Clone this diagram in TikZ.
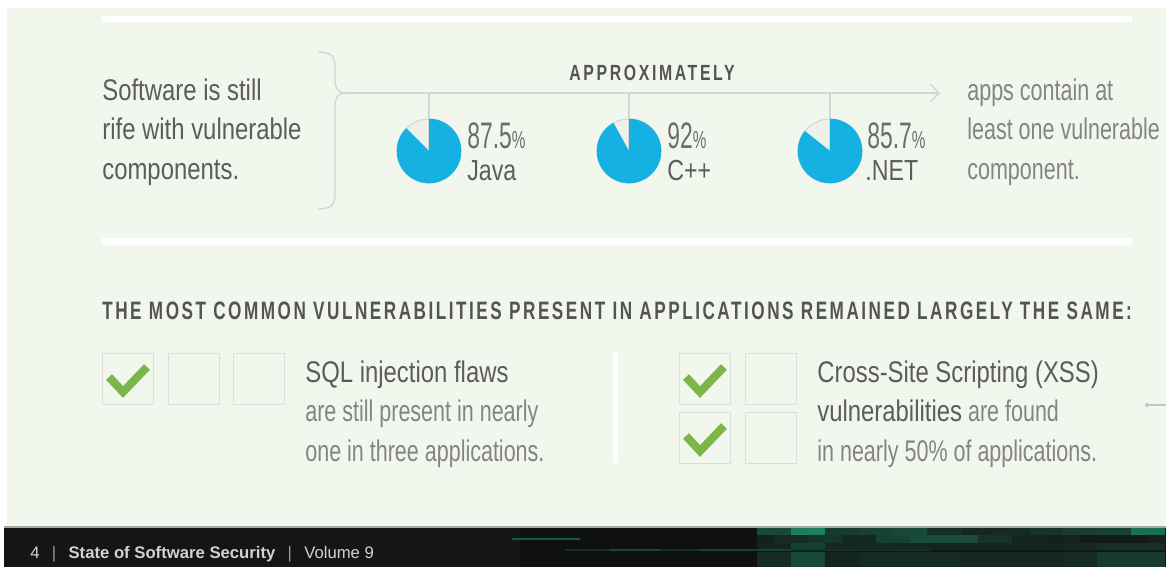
\documentclass[tikz,border=0pt]{standalone}
\usepackage{fontspec}
\setmainfont{Liberation Sans}
\newfontfamily\medfont{Liberation Sans}[FakeStretch=0.8]
\newfontfamily\lightfont{Liberation Sans}[FakeStretch=0.72]
\newfontfamily\numfont{Liberation Sans}[FakeStretch=0.62]
\newfontfamily\capsfont{Liberation Sans}[FakeStretch=0.72,LetterSpace=12]
\newfontfamily\headfont{Liberation Sans}[FakeStretch=0.68,LetterSpace=10]
\usetikzlibrary{arrows.meta}

\definecolor{panel}{RGB}{242,247,238}
\definecolor{rulegray}{RGB}{212,215,209}
\definecolor{boxline}{RGB}{220,223,216}
\definecolor{txtdark}{RGB}{92,92,92}
\definecolor{txthead}{RGB}{84,84,84}
\definecolor{txtlight}{RGB}{132,132,132}
\definecolor{pieblue}{RGB}{20,177,226}
\definecolor{pieblank}{RGB}{238,240,234}
\definecolor{checkgreen}{RGB}{122,182,72}
\definecolor{footbg}{RGB}{19,21,22}
\definecolor{footdark}{RGB}{14,16,17}
\definecolor{mosaic}{RGB}{34,168,118}

\tikzset{
  ruleline/.style={draw=rulegray, line width=0.8pt},
  medtext/.style={anchor=west, align=left, text=txtdark, inner sep=0pt,
    font=\medfont\fontsize{17}{22.4}\selectfont},
  lighttext/.style={anchor=west, align=left, text=txtlight, inner sep=0pt,
    font=\lightfont\fontsize{17}{22.4}\selectfont},
  capstext/.style={text=txthead, inner sep=0pt,
    font=\capsfont\bfseries\fontsize{12.5}{15}\selectfont},
  headtext/.style={anchor=west, text=txthead, inner sep=0pt,
    font=\headfont\bfseries\fontsize{14.35}{16}\selectfont},
  pctlabel/.style={anchor=west, text=txtdark!90, inner sep=0pt,
    font=\numfont\fontsize{21}{21}\selectfont},
  langlabel/.style={anchor=west, text=txtdark, inner sep=0pt,
    font=\medfont\fontsize{16.5}{16.5}\selectfont},
  checkbox/.style={draw=boxline, line width=0.8pt, minimum size=1.02cm, inner sep=0pt},
  tickline/.style={draw=checkgreen, line width=4.6pt},
}

\begin{document}
\begin{tikzpicture}[x=0.02cm, y=0.02cm]
        \useasboundingbox (0,0) rectangle (1166,-567);
        \fill[white] (0,0) rectangle (1166,-567);

        % panel and white bars
        \fill[panel] (7,-8) rectangle (1166,-527);
        \fill[white] (102,-16) rectangle (1132,-22);
        \fill[white] (102,-238) rectangle (1132,-245);
        \fill[white] (613,-352) rectangle (618,-463);

        % intro and outro text
        \node[medtext] (intro) at (102,-132) {Software is still\\rife with vulnerable\\components.};
        \node[lighttext] (outro) at (967,-132) {apps contain at\\least one vulnerable\\component.};

        % brace and arrow
        \coordinate (tip) at (345,-93);
        \coordinate (arrowend) at (940,-93);
        \draw[ruleline] (318,-52) .. controls (333,-52) and (335,-58) .. (335,-68) -- (335,-80)
            .. controls (335,-88) and (338,-93) .. (tip)
            .. controls (338,-93) and (335,-98) .. (335,-106) -- (335,-193)
            .. controls (335,-203) and (333,-209) .. (318,-209);
        \draw[ruleline, -{Straight Barb[length=5pt,width=10pt]}] (tip) -- (arrowend);
        \node[capstext] (approx) at (652,-73) {APPROXIMATELY};

        % pies
        \foreach \name/\cx/\p in {java/429/0.875, cpp/629/0.92, net/830/0.857} {
            \pgfmathsetmacro\ang{90+360*(1-\p)}
            \coordinate (\name) at (\cx,-151);
            \filldraw[fill=pieblank, draw=rulegray, line width=0.6pt] (\name) circle (32);
            \draw[ruleline] (\name) -- (\name |- tip);
            \fill[pieblue] (\name) -- ++(\ang:32.3) arc[start angle=\ang, end angle=450, radius=32.3] -- cycle;
        }

        % pie labels
        \node[pctlabel] (javapct) at (467,-136) {87.5{\fontsize{14}{14}\selectfont\%}};
        \node[langlabel] (javalang) at (467,-171) {Java};
        \node[pctlabel] (cpppct) at (667,-136) {92{\fontsize{14}{14}\selectfont\%}};
        \node[langlabel] (cpplang) at (667,-171) {C++};
        \node[pctlabel] (netpct) at (867,-136) {85.7{\fontsize{14}{14}\selectfont\%}};
        \node[langlabel] (netlang) at (865,-171) {.NET};

        % heading
        \node[headtext] (heading) at (102,-311) {THE MOST COMMON VULNERABILITIES PRESENT IN APPLICATIONS REMAINED LARGELY THE SAME:};

        % check boxes
        \node[checkbox] (b1) at (128,-379) {};
        \node[checkbox] (b2) at (194,-379) {};
        \node[checkbox] (b3) at (259,-379) {};
        \node[checkbox] (r1) at (705,-379) {};
        \node[checkbox] (r2) at (771,-379) {};
        \node[checkbox] (r3) at (705,-438) {};
        \node[checkbox] (r4) at (771,-438) {};
        \foreach \b in {b1,r1,r3} {
            \draw[tickline] ([xshift=-0.38cm,yshift=0.04cm]\b.center) -- ([xshift=-0.1cm,yshift=-0.26cm]\b.center)
                -- ([xshift=0.38cm,yshift=0.24cm]\b.center);
        }

        % vulnerability text
        \node[lighttext] (sql) at (305,-414) {{\color{txtdark}\medfont SQL injection flaws}\\are still present in nearly\\one in three applications.};
        \node[lighttext] (xss) at (817,-414) {{\color{txtdark}\medfont Cross-Site Scripting (XSS)}\\{\color{txtdark}\medfont vulnerabilities} are found\\in nearly 50\% of applications.};

        % stub at right edge
        \coordinate (stub) at (1147,-405);
        \coordinate (stubend) at (1166,-405);
        \fill[gray!45] (stub) circle (2);
        \draw[gray!45, line width=0.6pt] (stub) -- (stubend);

        % footer
        \fill[footbg] (4,-527) rectangle (1166,-567);
        \fill[footdark] (520,-527) rectangle (757,-567);
        \draw[gray!70, line width=0.8pt] (4,-527) -- (1166,-527);
        \foreach \v [count=\i from 0] in {35,72,25,30,35,18,12,14,20,28,30,62}
            \fill[mosaic!\v!footbg] ({757+34*\i},-528) rectangle ++(34,-7);
        \foreach \v [count=\i from 0] in {8,15,22,12,30,38,38,20,10,8,5,5,8}
            \fill[mosaic!\v!footbg] ({740+34*\i},-535) rectangle ++(34,-8);
        \foreach \v [count=\i from 0] in {10,30,12,14,12,10,10,10,10,12,18,18}
            \fill[mosaic!\v!footbg] ({757+34*\i},-543) rectangle ++(34,-7);
        \foreach \v [count=\i from 0] in {15,35,10,14,14,14,12,12,12,14,25,25}
            \fill[mosaic!\v!footbg] ({757+34*\i},-552) rectangle ++(34,-15);
        \fill[footdark] (740,-535) rectangle (757,-543);
        \draw[mosaic!45!footbg, line width=1pt] (512,-539) -- (580,-539);
        \draw[mosaic!18!footbg, line width=1pt] (565,-550) -- (930,-550);
        \draw[mosaic!35!footbg, line width=1pt] (610,-550) -- (660,-550);
        \draw[mosaic!30!footbg, line width=1pt] (700,-550) -- (790,-550);
        \node[anchor=west, inner sep=0pt, text=gray!35, font=\fontsize{9.5}{10}\selectfont] (foot) at (30,-554)
            {4\hspace{7pt}{\color{gray!80}|}\hspace{7pt}{\bfseries State of Software Security}\hspace{7pt}{\color{gray!80}|}\hspace{7pt}Volume 9};
    \end{tikzpicture}
\end{document}
